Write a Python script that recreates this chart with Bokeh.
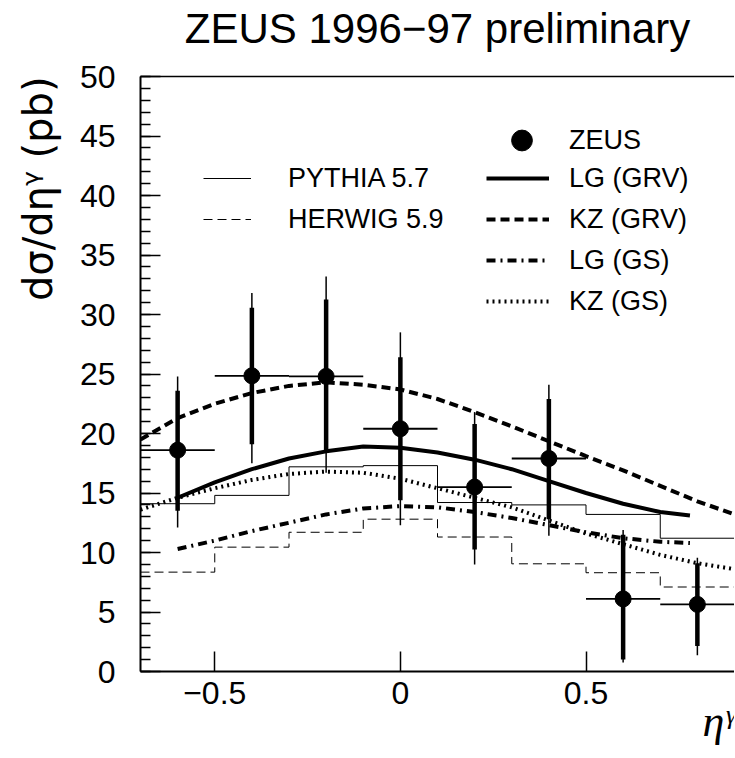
from bokeh.plotting import figure
from bokeh.models import (Range1d, FixedTicker, LinearAxis, Legend, LegendItem, Title)
from bokeh.embed import file_html
from bokeh.resources import INLINE

# ---------------- data ----------------
eta_c = [-0.6, -0.4, -0.2, 0.0, 0.2, 0.4, 0.6, 0.8]
eta_lo = [-0.7, -0.5, -0.3, -0.1, 0.1, 0.3, 0.5, 0.7]
eta_hi = [-0.5, -0.3, -0.1, 0.1, 0.3, 0.5, 0.7, 0.9]
zeus = [18.6, 24.85, 24.8, 20.4, 15.5, 17.9, 6.1, 5.64]
stat_lo = [13.5, 19.1, 18.4, 14.4, 10.25, 12.8, 1.0, 2.15]
stat_hi = [23.6, 30.56, 31.26, 26.4, 20.8, 22.9, 11.5, 9.1]
tot_lo = [12.1, 17.5, 16.7, 12.3, 9.0, 11.4, 0.75, 1.37]
tot_hi = [24.8, 31.8, 33.2, 28.5, 21.8, 24.1, 11.9, 9.55]

bin_edges = [-0.7, -0.5, -0.3, -0.1, 0.1, 0.3, 0.5, 0.7, 0.9]
pythia = [14.1, 14.8, 17.2, 17.3, 14.2, 14.0, 13.2, 11.2]
herwig = [8.35, 10.45, 11.7, 12.8, 11.3, 9.05, 8.3, 7.1]

eta_lg = [-0.6, -0.5, -0.4, -0.3, -0.2, -0.1, 0.0, 0.1, 0.2, 0.3, 0.4, 0.5, 0.6, 0.7, 0.78]
lg_grv = [14.6, 15.9, 17.0, 17.9, 18.5, 18.9, 18.8, 18.4, 17.8, 17.0, 16.0, 15.0, 14.1, 13.4, 13.1]
lg_gs = [10.3, 11.0, 11.8, 12.5, 13.2, 13.7, 13.9, 13.8, 13.4, 12.9, 12.3, 11.7, 11.2, 10.9, 10.8]

eta_kz = [-0.7, -0.6, -0.5, -0.4, -0.3, -0.2, -0.1, 0.0, 0.1, 0.2, 0.3, 0.4, 0.5, 0.6, 0.7, 0.8, 0.9]
kz_grv = [19.5, 21.3, 22.5, 23.4, 24.0, 24.3, 24.1, 23.7, 22.9, 21.8, 20.6, 19.35, 18.1, 16.9, 15.6, 14.3, 13.2]
kz_gs = [13.6, 14.6, 15.4, 16.1, 16.6, 16.8, 16.7, 16.2, 15.4, 14.6, 13.8, 12.7, 11.6, 10.7, 9.8, 9.1, 8.6]

y_ticks = [0, 5, 10, 15, 20, 25, 30, 35, 40, 45, 50]
y_minor = list(range(0, 51))
x_ticks = [-0.5, 0.0, 0.5]
x_tick_labels = {-0.5: "\u22120.5", 0: "0", 0.5: "0.5"}

title_text = "ZEUS 1996\u221297 preliminary"
ylabel_text = "d\u03c3/d\u03b7\u1d5e (pb)"
xlabel_text = "\u03b7\u1d5e"

FONT = "Liberation Sans"

# ---------------- figure ----------------
p = figure(width=734, height=757, output_backend="svg", toolbar_location=None,
           x_range=Range1d(-0.7, 0.9), y_range=Range1d(0, 50),
           min_border_left=140, min_border_right=0, min_border_top=76,
           min_border_bottom=86)
p.outline_line_color = None
p.xgrid.visible = False
p.ygrid.visible = False
p.background_fill_color = "white"
p.border_fill_color = "white"

for ax in (p.xaxis[0], p.yaxis[0]):
    ax.axis_line_width = 2
    ax.axis_line_color = "black"
    ax.major_tick_line_width = 1.5
    ax.minor_tick_line_width = 1.5
    ax.major_tick_line_color = "black"
    ax.minor_tick_line_color = "black"
    ax.major_tick_in = 20
    ax.major_tick_out = 0
    ax.minor_tick_in = 10
    ax.minor_tick_out = 0
    ax.major_label_text_font = FONT
    ax.major_label_text_font_size = "32px"
    ax.major_label_text_color = "black"

p.yaxis[0].ticker = FixedTicker(ticks=y_ticks, minor_ticks=y_minor)
p.yaxis[0].major_label_standoff = 25

p.xaxis[0].ticker = FixedTicker(ticks=x_ticks, minor_ticks=[])
p.xaxis[0].major_label_overrides = x_tick_labels
p.xaxis[0].major_label_standoff = 10

# top frame line, carrying the chart title as its label
top = LinearAxis(ticker=FixedTicker(ticks=[], minor_ticks=[]),
                 major_label_text_font_size="0px", axis_line_width=1.5,
                 major_tick_line_color=None, minor_tick_line_color=None,
                 major_tick_out=0, minor_tick_out=0, major_tick_in=0,
                 minor_tick_in=0, major_label_standoff=0,
                 axis_label=title_text, axis_label_standoff=25,
                 axis_label_text_font=FONT, axis_label_text_font_size="42px",
                 axis_label_text_font_style="normal",
                 axis_label_text_color="black")
p.add_layout(top, "above")

# y-axis label: left-side title aligned to the top of the frame
p.add_layout(Title(text=ylabel_text, align="right", vertical_align="top",
                   offset=0, standoff=27, text_font="DejaVu Sans",
                   text_font_size="40px", text_font_style="normal",
                   text_color="black"), "left")

# x-axis label at the lower right
p.add_layout(Title(text=xlabel_text, align="right", vertical_align="top",
                   offset=0, standoff=-20, text_font="Liberation Serif",
                   text_font_size="44px", text_font_style="italic",
                   text_color="black"), "below")

# ---------------- histograms ----------------
r_py = p.step(x=bin_edges, y=pythia + [pythia[-1]], mode="after",
              line_color="black", line_width=1)
r_hw = p.step(x=bin_edges, y=herwig + [herwig[-1]], mode="after",
              line_color="black", line_width=1, line_dash="9 5")

# ---------------- curves ----------------
r_lg_grv = p.line(eta_lg, lg_grv, line_color="black", line_width=4)
r_kz_grv = p.line(eta_kz, kz_grv, line_color="black", line_width=4, line_dash="9 5")
r_lg_gs = p.line(eta_lg, lg_gs, line_color="black", line_width=4, line_dash="9 5 2 5")
r_kz_gs = p.line(eta_kz, kz_gs, line_color="black", line_width=4, line_dash="2 4")

# ---------------- data points ----------------
p.segment(x0=eta_c, y0=tot_lo, x1=eta_c, y1=tot_hi, line_color="black", line_width=1.5)
p.segment(x0=eta_c, y0=stat_lo, x1=eta_c, y1=stat_hi, line_color="black", line_width=4.5)
p.segment(x0=eta_lo, y0=zeus, x1=eta_hi, y1=zeus, line_color="black", line_width=1.8)
r_pts = p.scatter(eta_c, zeus, size=16, marker="circle", fill_color="black",
                  line_color="black")

# ---------------- legends ----------------
common = dict(padding=0, margin=0, border_line_color=None, background_fill_alpha=0,
              label_text_font=FONT, label_text_font_size="27px",
              label_text_color="black")

leg_zeus = Legend(items=[LegendItem(label="ZEUS", renderers=[r_pts])],
                  location=(350, 505), glyph_width=63, glyph_height=52,
                  label_height=52, label_standoff=16, **common)
leg_right = Legend(items=[LegendItem(label="LG (GRV)", renderers=[r_lg_grv]),
                          LegendItem(label="KZ (GRV)", renderers=[r_kz_grv]),
                          LegendItem(label="LG (GS)", renderers=[r_lg_gs]),
                          LegendItem(label="KZ (GS)", renderers=[r_kz_gs])],
                   location=(346, 354), glyph_width=63, glyph_height=32,
                   label_height=32, spacing=9, label_standoff=20, **common)
leg_left = Legend(items=[LegendItem(label="PYTHIA 5.7", renderers=[r_py]),
                         LegendItem(label="HERWIG 5.9", renderers=[r_hw])],
                  location=(63, 436), glyph_width=48, glyph_height=32,
                  label_height=32, spacing=9, label_standoff=37, **common)
for lg in (leg_zeus, leg_right, leg_left):
    p.add_layout(lg)

open("out.html", "w").write(file_html(p, INLINE))
